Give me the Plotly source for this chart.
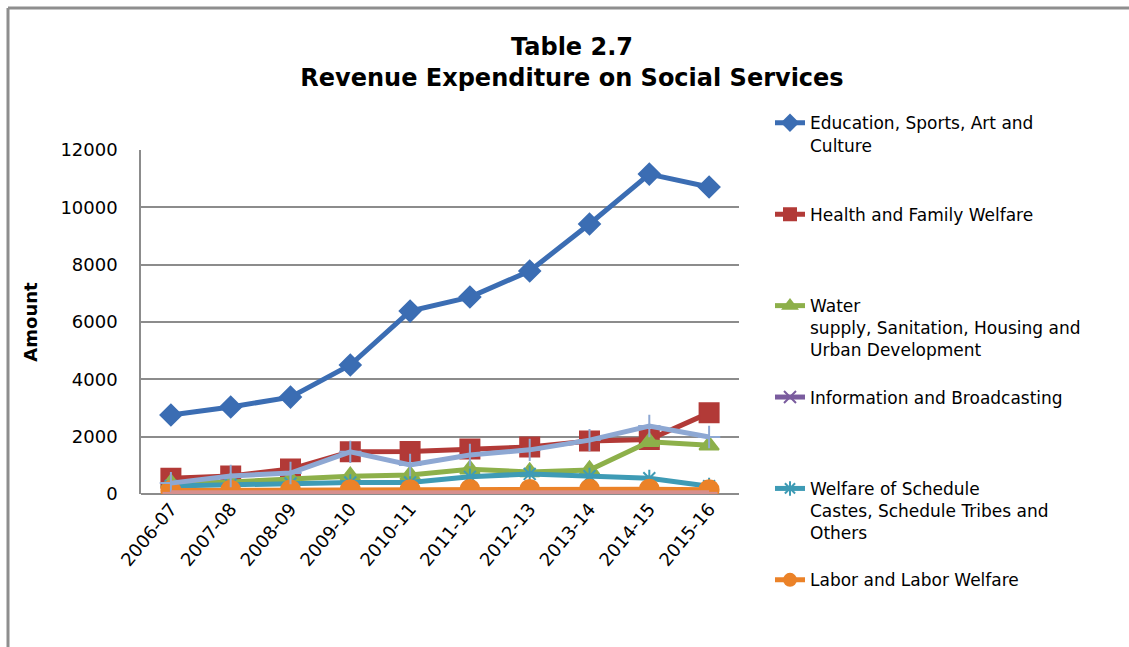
import plotly.graph_objects as go

years = ["2006-07", "2007-08", "2008-09", "2009-10", "2010-11",
         "2011-12", "2012-13", "2013-14", "2014-15", "2015-16"]

education = [2755, 3035, 3380, 4500, 6380, 6870, 7780, 9420, 11160, 10710]
health = [550, 630, 870, 1470, 1480, 1570, 1640, 1850, 1900, 2830]
water = [380, 420, 520, 620, 660, 860, 770, 840, 1820, 1700]
info_broadcasting = [10, 10, 10, 10, 10, 10, 10, 10, 10, 10]
welfare_sc_st = [280, 330, 370, 400, 400, 600, 700, 620, 550, 270]
labour = [120, 130, 140, 150, 150, 160, 160, 170, 170, 150]
social_welfare = [380, 630, 730, 1470, 1010, 1360, 1540, 1880, 2370, 1990]
other_services = [40, 40, 40, 40, 40, 40, 40, 40, 40, 40]

series = [
    ("Education, Sports, Art and<br>Culture", education, "#3B6DB3", "diamond", 16, True),
    ("Health and Family Welfare", health, "#B23A37", "square", 19, True),
    ("Water<br>supply, Sanitation, Housing and<br>Urban Development", water, "#8DB04A", "triangle-up", 17, True),
    ("Information and Broadcasting", info_broadcasting, "#7A5C9E", "x-thin-open", 12, True),
    ("Welfare of Schedule<br>Castes, Schedule Tribes and<br>Others", welfare_sc_st, "#3E9BB5", "asterisk-open", 14, True),
    ("Labor and Labor Welfare", labour, "#EB8228", "circle", 19, True),
    ("Social Security and Welfare", social_welfare, "#8EA8D3", "cross-thin-open", 16, False),
    ("Other Social Services", other_services, "#D6908E", "line-ew-open", 12, False),
]

FONT = "DejaVu Sans, Verdana, sans-serif"

fig = go.Figure()
last_in_legend = max(i for i, s in enumerate(series) if s[5])
for i, (name, values, color, symbol, size, in_legend) in enumerate(series):
    # blank lines pad every legend entry (but the last) to a four-line slot
    n_lines = name.count("<br>") + 1
    pad = 0 if i == last_in_legend else 4 - n_lines
    label = name + "<br>&nbsp;" * pad
    fig.add_trace(go.Scatter(
        x=years, y=values, name=label, mode="lines+markers",
        line=dict(color=color, width=5),
        marker=dict(symbol=symbol, size=size, color=color,
                    line=dict(color=color, width=2)),
        showlegend=in_legend,
        legendgroup=name,
    ))

fig.update_layout(
    width=1129, height=647,
    paper_bgcolor="white", plot_bgcolor="white",
    margin=dict(l=141, r=390, t=150, b=153),
    font=dict(family=FONT, size=17, color="#000000"),
    title=dict(
        text="<b>Table 2.7<br>Revenue Expenditure on Social Services</b>",
        x=572 / 1129, xanchor="center", xref="container",
        y=1 - 55 / 647, yanchor="top", yref="container",
        font=dict(size=24, family=FONT),
    ),
    showlegend=True,
    legend=dict(
        x=(770 - 141) / 598, xanchor="left", y=1.13, yanchor="top",
        valign="top", tracegroupgap=0, itemsizing="constant",
        maxheight=620,
        font=dict(size=17, family=FONT), bgcolor="rgba(0,0,0,0)",
    ),
    xaxis=dict(
        type="category", range=[-0.5, 9.5], tickangle=-50,
        showgrid=False, showline=False, ticks="",
        tickfont=dict(size=18),
    ),
    yaxis=dict(
        range=[0, 12000], dtick=2000, tickformat="d",
        showgrid=True, gridcolor="#8C8C8C",
        gridwidth=1.5, zeroline=True, zerolinecolor="#8C8C8C", zerolinewidth=1.5,
        showline=True, linecolor="#8C8C8C", linewidth=1.5, ticks="",
        ticklabelstandoff=18,
        tickfont=dict(size=18),
        title=dict(text="<b>Amount</b>", font=dict(size=18), standoff=18),
    ),
    shapes=[
        # outer chart frame
        dict(type="line", xref="paper", yref="paper",
             x0=(8 - 141) / 598, x1=(1129 - 141) / 598,
             y0=(494 - 8) / 344, y1=(494 - 8) / 344,
             line=dict(color="#8E8E8E", width=3)),
        dict(type="line", xref="paper", yref="paper",
             x0=(8 - 141) / 598, x1=(8 - 141) / 598,
             y0=(494 - 8) / 344, y1=(494 - 660) / 344,
             line=dict(color="#8E8E8E", width=3)),
    ],
)

fig.write_html("out.html")
